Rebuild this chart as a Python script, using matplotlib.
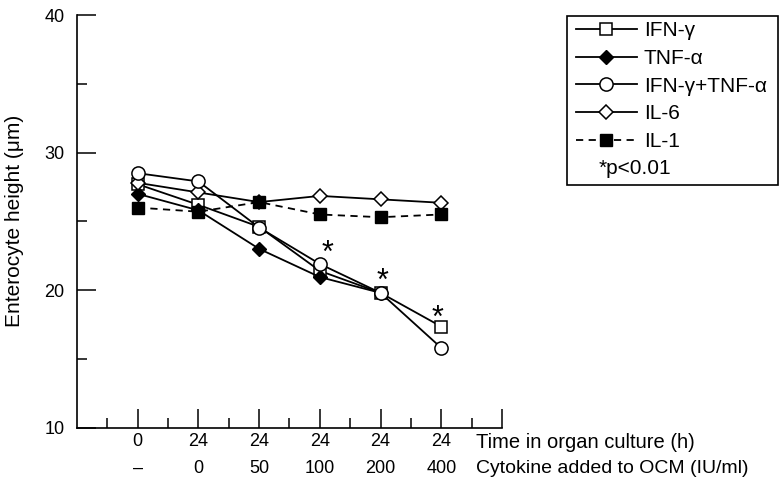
import matplotlib
matplotlib.use("Agg")
import matplotlib.pyplot as plt
from matplotlib.patches import Rectangle
from matplotlib.transforms import blended_transform_factory

plt.rcParams['font.family'] = ['Liberation Sans', 'DejaVu Sans']

# x positions of the culture conditions
pos = [0, 1, 2, 3, 4, 5]
time_h = ['0', '24', '24', '24', '24', '24']
cytokine = ['–', '0', '50', '100', '200', '400']

ifn_g = [27.7, 26.2, 24.6, 21.4, 19.8, 17.35]
tnf_a = [27.0, 25.8, 23.0, 20.95, 19.8]
ifn_tnf = [28.5, 27.9, 24.55, 21.9, 19.8, 15.8]
il6 = [27.8, 27.1, 26.4, 26.85, 26.6, 26.35]
il1 = [26.0, 25.7, 26.4, 25.5, 25.3, 25.5]

# significance stars (x, y)
star_x = [3.12, 4.04, 4.94]
star_y = [22.6, 20.6, 17.9]

fig = plt.figure(figsize=(7.8, 4.82), dpi=100)
ax = fig.add_axes([77/780, 1 - 427.7/482, (502-77)/780, (427.7-15)/482])

lw = 1.3
p1, = ax.plot(pos, ifn_g, '-', color='k', lw=lw, marker='s', ms=8,
              mfc='white', mec='k', mew=1.1, zorder=3)
p2, = ax.plot(pos[:len(tnf_a)], tnf_a, '-', color='k', lw=lw, marker='D', ms=7.5,
              mfc='k', mec='k', zorder=3)
p3, = ax.plot(pos, ifn_tnf, '-', color='k', lw=lw, marker='o', ms=9.5,
              mfc='white', mec='k', mew=1.1, zorder=4)
p4, = ax.plot(pos, il6, '-', color='k', lw=lw, marker='D', ms=7.5,
              mfc='white', mec='k', mew=1.1, zorder=3)
p5, = ax.plot(pos, il1, '--', color='k', lw=lw, marker='s', ms=8,
              mfc='k', mec='k', zorder=3, dashes=(4, 3))

for sx, sy in zip(star_x, star_y):
    ax.text(sx, sy, '*', fontsize=22, ha='center', va='center')

ax.set_xlim(-1, 6)
ax.set_ylim(10, 40)
ax.spines['top'].set_visible(False)
ax.spines['right'].set_visible(False)
for s in ('left', 'bottom'):
    ax.spines[s].set_linewidth(1.2)

ax.set_xticks(pos + [6])
ax.set_xticklabels([f"{a}\n{b}" for a, b in zip(time_h, cytokine)] + [''],
                   linespacing=1.75)
ax.set_xticks([-0.5, 0.5, 1.5, 2.5, 3.5, 4.5, 5.5], minor=True)
ax.set_yticks([10, 20, 30, 40])
ax.set_yticks([15, 25, 35], minor=True)
ax.tick_params(which='major', direction='in', length=14, width=1.1,
               labelsize=13, pad=9)
ax.tick_params(which='minor', direction='in', length=7, width=1.1)
ax.tick_params(axis='x', which='major', pad=4)

tr = blended_transform_factory(ax.transData, ax.transAxes)
ax.text(5.58, -0.012, 'Time in organ culture (h)', transform=tr,
        fontsize=14.5, ha='left', va='top')
ax.text(5.58, -0.078, 'Cytokine added to OCM (IU/ml)', transform=tr,
        fontsize=14, ha='left', va='top')

ax.set_ylabel('Enterocyte height (μm)', fontsize=15)
ax.yaxis.set_label_coords(-0.125, 0.5)

fig.legend([p1, p2, p3, p4, p5],
           ['IFN-γ', 'TNF-α', 'IFN-γ+TNF-α', 'IL-6', 'IL-1'],
           loc='upper left', bbox_to_anchor=(572/780, 1 - 17/482),
           frameon=False, fontsize=15, handlelength=2.9,
           handletextpad=0.35, labelspacing=0.42, numpoints=1,
           borderaxespad=0, borderpad=0.2)
fig.text(599/780, 1 - 169/482, '*p<0.01', fontsize=15, ha='left', va='center')
fig.patches.append(Rectangle((567/780, 1 - 185/482), 211/780, 169/482,
                             transform=fig.transFigure, fill=False,
                             edgecolor='k', lw=1.2))

fig.savefig('out.png', dpi=100)
